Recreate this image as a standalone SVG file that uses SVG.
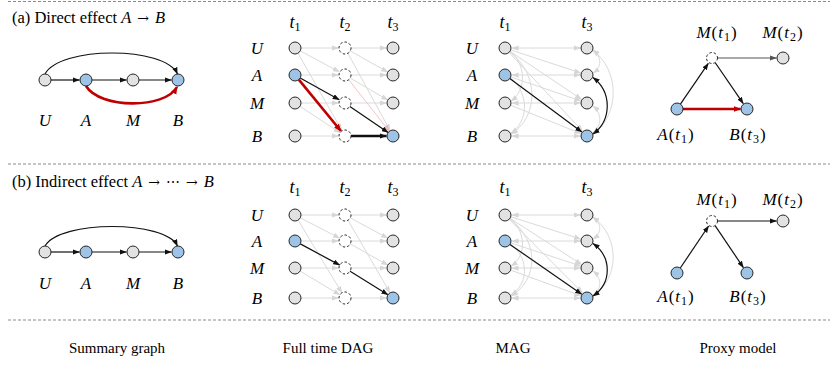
<svg xmlns="http://www.w3.org/2000/svg" width="830" height="367" viewBox="0 0 830 367">
<style>
.n{stroke:#262626;stroke-width:1}
.g{fill:#e2e2e2}
.b{fill:#9dc3e6}
.d{fill:#fff;stroke-dasharray:2.5 2}
.e{stroke:#111;stroke-width:1.2;fill:none;marker-end:url(#ak)}
.eg{stroke:#555;stroke-width:1.2;fill:none;marker-end:url(#ag)}
.l{stroke:#dadada;stroke-width:1;fill:none;marker-end:url(#al)}
.lb{stroke:#dadada;stroke-width:1;fill:none;marker-end:url(#al);marker-start:url(#al)}
.kb{stroke:#111;stroke-width:1.2;fill:none;marker-end:url(#ak);marker-start:url(#ak)}
.r{stroke:#c00000;stroke-width:2.6;fill:none;marker-end:url(#ar)}
.p{stroke:#f3c6c6;stroke-width:1;fill:none;marker-end:url(#ap)}
.m{font-family:"Liberation Serif",serif;font-style:italic;font-size:17px;text-anchor:middle}
.h{font-family:"Liberation Serif",serif;font-style:italic;font-size:18px;text-anchor:middle}
.px{font-family:"Liberation Serif",serif;font-size:17px;text-anchor:middle;letter-spacing:1px}
.t{font-family:"Liberation Serif",serif;font-size:16.5px}
.f{font-family:"Liberation Serif",serif;font-size:15px;text-anchor:middle}
.i{font-style:italic}
.ar{font-family:"DejaVu Serif",serif;font-size:14px}
.sb{font-size:12px;font-style:normal}
.sep{stroke:#8a8a8a;stroke-width:1;stroke-dasharray:3 2}
</style>
<defs>
<marker id="ak" viewBox="0 0 8 6" markerWidth="7" markerHeight="5.5" refX="7.5" refY="3" orient="auto-start-reverse" markerUnits="userSpaceOnUse"><path d="M0,0 L8,3 L0,6 z" fill="#111"/></marker>
<marker id="ag" viewBox="0 0 8 6" markerWidth="7" markerHeight="5.5" refX="7.5" refY="3" orient="auto-start-reverse" markerUnits="userSpaceOnUse"><path d="M0,0 L8,3 L0,6 z" fill="#555"/></marker>
<marker id="al" viewBox="0 0 8 6" markerWidth="7" markerHeight="5.5" refX="7.5" refY="3" orient="auto-start-reverse" markerUnits="userSpaceOnUse"><path d="M0,0 L8,3 L0,6 z" fill="#d6d6d6"/></marker>
<marker id="ap" viewBox="0 0 8 6" markerWidth="7" markerHeight="5.5" refX="7.5" refY="3" orient="auto-start-reverse" markerUnits="userSpaceOnUse"><path d="M0,0 L8,3 L0,6 z" fill="#f0b8b8"/></marker>
<marker id="ar" viewBox="0 0 8 6" markerWidth="8" markerHeight="6.5" refX="7" refY="3" orient="auto-start-reverse" markerUnits="userSpaceOnUse"><path d="M0,0 L8,3 L0,6 z" fill="#c00000"/></marker>
</defs>
<rect width="830" height="367" fill="#fff"/>

<g id="separators">
<line class="sep" x1="8" y1="1.5" x2="830" y2="1.5"/>
<line class="sep" x1="8" y1="164" x2="830" y2="164"/>
<line class="sep" x1="8" y1="320" x2="830" y2="320"/>
</g>

<g id="titles">
<text class="t" x="12" y="23">(a) Direct effect <tspan class="i">A</tspan><tspan class="ar" dx="6">→</tspan><tspan class="i" dx="6">B</tspan></text>
<text class="t" x="12" y="187">(b) Indirect effect <tspan class="i">A</tspan><tspan class="ar" dx="6">→</tspan><tspan class="ar" dx="6">⋯</tspan><tspan class="ar" dx="6">→</tspan><tspan class="i" dx="6">B</tspan></text>
<text class="f" x="117" y="353">Summary graph</text>
<text class="f" x="328" y="353">Full time DAG</text>
<text class="f" x="513" y="353">MAG</text>
<text class="f" x="738" y="353">Proxy model</text>
</g>

<!-- connectors -->
<g id="connectors">
<!-- summary a -->
<path class="e" d="M45,74 C60,46 165,46 177.5,74"/>
<line class="e" x1="51" y1="80" x2="79.5" y2="80"/>
<line class="e" x1="92" y1="80" x2="126.5" y2="80"/>
<line class="e" x1="139" y1="80" x2="171.5" y2="80"/>
<path class="r" d="M86,86 C100,109 165,109 177,87"/>
<!-- summary b -->
<path class="e" d="M45,246 C60,220 165,220 177.5,246"/>
<line class="e" x1="51" y1="252" x2="79.5" y2="252"/>
<line class="e" x1="92" y1="252" x2="126.5" y2="252"/>
<line class="e" x1="139" y1="252" x2="171.5" y2="252"/>

<!-- DAG a -->
<line class="l" x1="301" y1="48" x2="338.5" y2="48"/>
<line class="l" x1="301" y1="75" x2="338.5" y2="75"/>
<line class="l" x1="301" y1="103" x2="338.5" y2="103"/>
<line class="l" x1="301" y1="136" x2="338.5" y2="136"/>
<line class="l" x1="351" y1="48" x2="386.5" y2="48"/>
<line class="l" x1="351" y1="75" x2="386.5" y2="75"/>
<line class="l" x1="351" y1="103" x2="386.5" y2="103"/>
<line class="l" x1="300.3" y1="50.9" x2="339.3" y2="71.9"/>
<line class="l" x1="298" y1="53.2" x2="341.8" y2="130.3"/>
<line class="l" x1="300" y1="106.3" x2="340" y2="132.7"/>
<line class="l" x1="350.2" y1="50.9" x2="387.8" y2="72.1"/>
<line class="l" x1="347.9" y1="53.3" x2="390.1" y2="130.7"/>
<line class="l" x1="350.2" y1="78" x2="387.8" y2="100"/>
<line class="p" x1="348.7" y1="79.7" x2="389.3" y2="131.3"/>
<line class="e" x1="300.2" y1="77.9" x2="339.3" y2="99.8"/>
<line class="e" x1="349.9" y1="106.4" x2="388.1" y2="132.6"/>
<line class="e" style="stroke-width:2.4" x1="351" y1="136" x2="386.5" y2="136"/>
<line class="r" x1="298.8" y1="79.6" x2="340.9" y2="131"/>

<!-- DAG b -->
<line class="l" x1="301" y1="215" x2="338.5" y2="215"/>
<line class="l" x1="301" y1="241" x2="338.5" y2="241"/>
<line class="l" x1="301" y1="268" x2="338.5" y2="268"/>
<line class="l" x1="301" y1="298" x2="338.5" y2="298"/>
<line class="l" x1="351" y1="215" x2="386.5" y2="215"/>
<line class="l" x1="351" y1="241" x2="386.5" y2="241"/>
<line class="l" x1="351" y1="268" x2="386.5" y2="268"/>
<line class="l" x1="351" y1="298" x2="386.5" y2="298"/>
<line class="l" x1="300.3" y1="217.8" x2="339.7" y2="238.2"/>
<line class="l" x1="298.1" y1="220.1" x2="341.9" y2="292.9"/>
<line class="l" x1="300.1" y1="271.1" x2="339.9" y2="294.9"/>
<line class="l" x1="350.3" y1="217.9" x2="387.7" y2="238.1"/>
<line class="l" x1="348" y1="220.2" x2="390" y2="292.8"/>
<line class="l" x1="350.2" y1="243.9" x2="387.8" y2="265.1"/>
<line class="e" x1="300.3" y1="243.9" x2="339.7" y2="265.1"/>
<line class="e" x1="350.1" y1="271.2" x2="387.9" y2="294.8"/>

<!-- MAG a -->
<line class="lb" x1="512" y1="48" x2="580.5" y2="48"/>
<line class="lb" x1="512" y1="75" x2="580.5" y2="75"/>
<line class="lb" x1="512" y1="103" x2="580.5" y2="103"/>
<line class="lb" x1="512" y1="136" x2="580.5" y2="136"/>
<line class="l" x1="510.7" y1="49.9" x2="580.8" y2="73"/>
<line class="l" x1="510" y1="51.3" x2="581.6" y2="99.4"/>
<line class="l" x1="509.1" y1="52.4" x2="582.6" y2="131.2"/>
<line class="l" x1="510.7" y1="76.9" x2="580.8" y2="100.9"/>
<line class="l" x1="510.6" y1="105.2" x2="580.9" y2="133.6"/>
<path class="l" d="M510,51 C526,64 527,90 511,101"/>
<path class="l" d="M510,52 C540,75 538,118 511,134"/>
<path class="l" d="M511,78 C530,95 528,122 511,133"/>
<path class="lb" d="M593,50 C602,57 602,67 593,73"/>
<path class="lb" d="M593,106 C602,113 602,126 593,133"/>
<path class="lb" d="M592.5,50 C620,70 620,115 593,134"/>
<line class="e" x1="509.8" y1="78.6" x2="581.8" y2="132.1"/>
<path class="kb" d="M593,77.5 C612,92 612,120 593,134"/>

<!-- MAG b -->
<line class="lb" x1="512" y1="215" x2="580.5" y2="215"/>
<line class="lb" x1="512" y1="241" x2="580.5" y2="241"/>
<line class="lb" x1="512" y1="268" x2="580.5" y2="268"/>
<line class="lb" x1="512" y1="298" x2="580.5" y2="298"/>
<line class="l" x1="510.7" y1="216.8" x2="580.8" y2="239"/>
<line class="l" x1="510" y1="218.3" x2="581.6" y2="264.5"/>
<line class="l" x1="509.2" y1="219.3" x2="582.4" y2="292.7"/>
<line class="l" x1="510.7" y1="242.9" x2="580.8" y2="266"/>
<line class="l" x1="510.6" y1="270.1" x2="580.9" y2="295.8"/>
<path class="l" d="M510,218 C526,231 527,256 511,266"/>
<path class="l" d="M510,219 C540,242 538,280 511,296"/>
<path class="l" d="M511,244 C530,260 528,284 511,295"/>
<path class="lb" d="M593,217 C602,224 602,233 593,239"/>
<path class="lb" d="M593,271 C602,278 602,289 593,295"/>
<path class="lb" d="M592.5,217 C620,236 620,278 593,296"/>
<line class="e" x1="509.9" y1="244.4" x2="581.7" y2="294.3"/>
<path class="kb" d="M593,243.5 C612,257 612,283 593,296"/>

<!-- Proxy a -->
<line class="e" x1="680.4" y1="104.1" x2="708.3" y2="63.4"/>
<line class="e" x1="715.1" y1="62.5" x2="743.3" y2="103.6"/>
<line class="eg" x1="718" y1="58" x2="776.5" y2="58"/>
<line class="r" x1="683" y1="109" x2="740.5" y2="109"/>
<!-- Proxy b -->
<line class="e" x1="680.3" y1="268" x2="708.6" y2="226"/>
<line class="e" x1="715.1" y1="225.6" x2="743.4" y2="267.6"/>
<line class="e" x1="718" y1="221" x2="776.5" y2="221"/>
</g>

<!-- Summary graph (a) -->
<g id="sa-U"><circle class="n g" cx="45" cy="80" r="6"/><text class="m" x="45" y="126">U</text></g>
<g id="sa-A"><circle class="n b" cx="86" cy="80" r="6"/><text class="m" x="86" y="126">A</text></g>
<g id="sa-M"><circle class="n g" cx="133" cy="80" r="6"/><text class="m" x="133" y="126">M</text></g>
<g id="sa-B"><circle class="n b" cx="178" cy="80" r="6"/><text class="m" x="178" y="126">B</text></g>
<!-- Summary graph (b) -->
<g id="sb-U"><circle class="n g" cx="45" cy="252" r="6"/><text class="m" x="45" y="289">U</text></g>
<g id="sb-A"><circle class="n b" cx="86" cy="252" r="6"/><text class="m" x="86" y="289">A</text></g>
<g id="sb-M"><circle class="n g" cx="133" cy="252" r="6"/><text class="m" x="133" y="289">M</text></g>
<g id="sb-B"><circle class="n b" cx="178" cy="252" r="6"/><text class="m" x="178" y="289">B</text></g>

<!-- DAG (a) labels -->
<g id="da-labels">
<text class="h" x="295" y="28">t<tspan class="sb" dy="3">1</tspan></text>
<text class="h" x="345" y="28">t<tspan class="sb" dy="3">2</tspan></text>
<text class="h" x="393" y="28">t<tspan class="sb" dy="3">3</tspan></text>
<text class="m" x="257" y="54">U</text>
<text class="m" x="257" y="81">A</text>
<text class="m" x="257" y="109">M</text>
<text class="m" x="257" y="142">B</text>
</g>
<g id="da-U1"><circle class="n g" cx="295" cy="48" r="6"/></g>
<g id="da-A1"><circle class="n b" cx="295" cy="75" r="6"/></g>
<g id="da-M1"><circle class="n g" cx="295" cy="103" r="6"/></g>
<g id="da-B1"><circle class="n g" cx="295" cy="136" r="6"/></g>
<g id="da-U2"><circle class="n d" cx="345" cy="48" r="6"/></g>
<g id="da-A2"><circle class="n d" cx="345" cy="75" r="6"/></g>
<g id="da-M2"><circle class="n d" cx="345" cy="103" r="6"/></g>
<g id="da-B2"><circle class="n d" cx="345" cy="136" r="6"/></g>
<g id="da-U3"><circle class="n g" cx="393" cy="48" r="6"/></g>
<g id="da-A3"><circle class="n g" cx="393" cy="75" r="6"/></g>
<g id="da-M3"><circle class="n g" cx="393" cy="103" r="6"/></g>
<g id="da-B3"><circle class="n b" cx="393" cy="136" r="6"/></g>

<!-- DAG (b) -->
<g id="db-labels">
<text class="h" x="295" y="193">t<tspan class="sb" dy="3">1</tspan></text>
<text class="h" x="345" y="193">t<tspan class="sb" dy="3">2</tspan></text>
<text class="h" x="393" y="193">t<tspan class="sb" dy="3">3</tspan></text>
<text class="m" x="257" y="221">U</text>
<text class="m" x="257" y="247">A</text>
<text class="m" x="257" y="274">M</text>
<text class="m" x="257" y="304">B</text>
</g>
<g id="db-U1"><circle class="n g" cx="295" cy="215" r="6"/></g>
<g id="db-A1"><circle class="n b" cx="295" cy="241" r="6"/></g>
<g id="db-M1"><circle class="n g" cx="295" cy="268" r="6"/></g>
<g id="db-B1"><circle class="n g" cx="295" cy="298" r="6"/></g>
<g id="db-U2"><circle class="n d" cx="345" cy="215" r="6"/></g>
<g id="db-A2"><circle class="n d" cx="345" cy="241" r="6"/></g>
<g id="db-M2"><circle class="n d" cx="345" cy="268" r="6"/></g>
<g id="db-B2"><circle class="n d" cx="345" cy="298" r="6"/></g>
<g id="db-U3"><circle class="n g" cx="393" cy="215" r="6"/></g>
<g id="db-A3"><circle class="n g" cx="393" cy="241" r="6"/></g>
<g id="db-M3"><circle class="n g" cx="393" cy="268" r="6"/></g>
<g id="db-B3"><circle class="n b" cx="393" cy="298" r="6"/></g>

<!-- MAG (a) -->
<g id="ma-labels">
<text class="h" x="505" y="28">t<tspan class="sb" dy="3">1</tspan></text>
<text class="h" x="587" y="28">t<tspan class="sb" dy="3">3</tspan></text>
<text class="m" x="472" y="54">U</text>
<text class="m" x="472" y="81">A</text>
<text class="m" x="472" y="109">M</text>
<text class="m" x="472" y="142">B</text>
</g>
<g id="ma-U1"><circle class="n g" cx="505" cy="48" r="6"/></g>
<g id="ma-A1"><circle class="n b" cx="505" cy="75" r="6"/></g>
<g id="ma-M1"><circle class="n g" cx="505" cy="103" r="6"/></g>
<g id="ma-B1"><circle class="n g" cx="505" cy="136" r="6"/></g>
<g id="ma-U3"><circle class="n g" cx="587" cy="48" r="6"/></g>
<g id="ma-A3"><circle class="n g" cx="587" cy="75" r="6"/></g>
<g id="ma-M3"><circle class="n g" cx="587" cy="103" r="6"/></g>
<g id="ma-B3"><circle class="n b" cx="587" cy="136" r="6"/></g>

<!-- MAG (b) -->
<g id="mb-labels">
<text class="h" x="505" y="193">t<tspan class="sb" dy="3">1</tspan></text>
<text class="h" x="587" y="193">t<tspan class="sb" dy="3">3</tspan></text>
<text class="m" x="472" y="221">U</text>
<text class="m" x="472" y="247">A</text>
<text class="m" x="472" y="274">M</text>
<text class="m" x="472" y="304">B</text>
</g>
<g id="mb-U1"><circle class="n g" cx="505" cy="215" r="6"/></g>
<g id="mb-A1"><circle class="n b" cx="505" cy="241" r="6"/></g>
<g id="mb-M1"><circle class="n g" cx="505" cy="268" r="6"/></g>
<g id="mb-B1"><circle class="n g" cx="505" cy="298" r="6"/></g>
<g id="mb-U3"><circle class="n g" cx="587" cy="215" r="6"/></g>
<g id="mb-A3"><circle class="n g" cx="587" cy="241" r="6"/></g>
<g id="mb-M3"><circle class="n g" cx="587" cy="268" r="6"/></g>
<g id="mb-B3"><circle class="n b" cx="587" cy="298" r="6"/></g>

<!-- Proxy (a) -->
<g id="pa-Mt1"><circle class="n d" cx="712" cy="58" r="5.5"/><text class="px" x="717" y="38"><tspan class="i">M</tspan>(<tspan class="i">t</tspan><tspan class="sb" dy="3">1</tspan><tspan dy="-3">)</tspan></text></g>
<g id="pa-Mt2"><circle class="n g" cx="783" cy="58" r="6"/><text class="px" x="783" y="38"><tspan class="i">M</tspan>(<tspan class="i">t</tspan><tspan class="sb" dy="3">2</tspan><tspan dy="-3">)</tspan></text></g>
<g id="pa-At1"><circle class="n b" cx="677" cy="109" r="6"/><text class="px" x="676" y="140"><tspan class="i">A</tspan>(<tspan class="i">t</tspan><tspan class="sb" dy="3">1</tspan><tspan dy="-3">)</tspan></text></g>
<g id="pa-Bt3"><circle class="n b" cx="747" cy="109" r="6"/><text class="px" x="748" y="140"><tspan class="i">B</tspan>(<tspan class="i">t</tspan><tspan class="sb" dy="3">3</tspan><tspan dy="-3">)</tspan></text></g>

<!-- Proxy (b) -->
<g id="pb-Mt1"><circle class="n d" cx="712" cy="221" r="5.5"/><text class="px" x="717" y="205"><tspan class="i">M</tspan>(<tspan class="i">t</tspan><tspan class="sb" dy="3">1</tspan><tspan dy="-3">)</tspan></text></g>
<g id="pb-Mt2"><circle class="n g" cx="783" cy="221" r="6"/><text class="px" x="783" y="205"><tspan class="i">M</tspan>(<tspan class="i">t</tspan><tspan class="sb" dy="3">2</tspan><tspan dy="-3">)</tspan></text></g>
<g id="pb-At1"><circle class="n b" cx="677" cy="273" r="6"/><text class="px" x="676" y="302"><tspan class="i">A</tspan>(<tspan class="i">t</tspan><tspan class="sb" dy="3">1</tspan><tspan dy="-3">)</tspan></text></g>
<g id="pb-Bt3"><circle class="n b" cx="747" cy="273" r="6"/><text class="px" x="748" y="302"><tspan class="i">B</tspan>(<tspan class="i">t</tspan><tspan class="sb" dy="3">3</tspan><tspan dy="-3">)</tspan></text></g>
</svg>
